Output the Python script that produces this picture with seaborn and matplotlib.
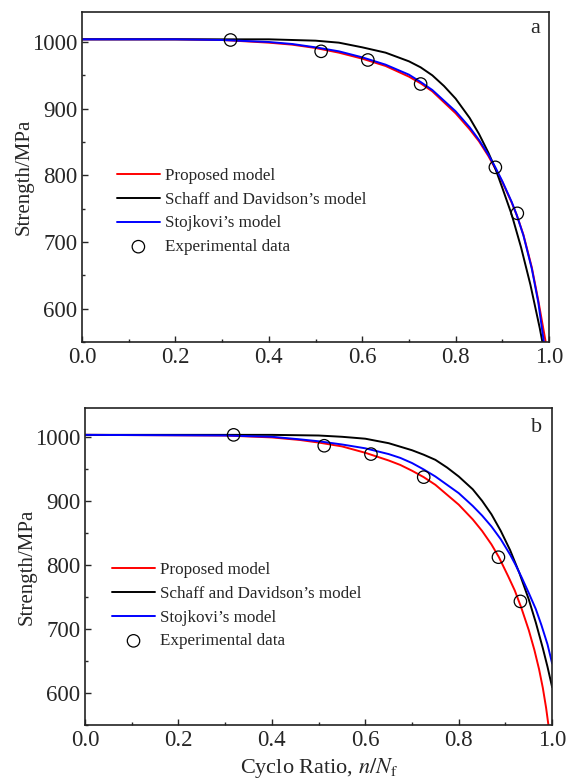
import matplotlib
matplotlib.use("Agg")
from matplotlib import pyplot as plt
from matplotlib.ticker import MultipleLocator, FormatStrFormatter
import seaborn as sns

# experimental points (same in both panels)
exp_x = [0.318, 0.512, 0.612, 0.725, 0.885, 0.932]
exp_y = [1003, 986, 973, 937, 812, 743]

# panel a curves
a_prop_x = [0.0, 0.2, 0.3, 0.4, 0.45, 0.5, 0.55, 0.6, 0.65, 0.7, 0.725, 0.75, 0.8, 0.83, 0.85, 0.87, 0.885, 0.9, 0.92, 0.931, 0.945, 0.963, 0.977, 0.993, 0.999]
a_prop_y = [1004, 1004, 1003, 999, 996, 991, 984, 975, 964, 948, 938, 926, 893, 869, 851, 829, 810, 790, 759, 740, 711, 662, 612, 549, 515]
a_sd_x = [0.0, 0.3, 0.4, 0.5, 0.55, 0.6, 0.65, 0.7, 0.725, 0.75, 0.775, 0.8, 0.83, 0.85, 0.87, 0.885, 0.9, 0.92, 0.94, 0.96, 0.98, 0.99]
a_sd_y = [1004, 1004, 1004, 1002, 999, 992, 984, 971, 962, 950, 934, 915, 886, 862, 834, 810, 781, 741, 692, 636, 571, 534]
a_sto_x = [0.0, 0.2, 0.3, 0.4, 0.45, 0.5, 0.55, 0.6, 0.65, 0.7, 0.725, 0.75, 0.8, 0.83, 0.85, 0.87, 0.885, 0.9, 0.92, 0.931, 0.945, 0.963, 0.977, 0.989, 0.995]
a_sto_y = [1004, 1004, 1003, 1000, 997, 992, 986, 977, 966, 951, 940, 928, 896, 872, 853, 831, 812, 791, 760, 740, 710, 660, 609, 549, 515]

# panel b curves
b_prop_x = [0.0, 0.3, 0.4, 0.46, 0.5, 0.55, 0.6, 0.65, 0.675, 0.7, 0.725, 0.75, 0.8, 0.83, 0.85, 0.87, 0.886, 0.906, 0.92, 0.934, 0.95, 0.962, 0.972, 0.98, 0.987, 0.992, 0.997]
b_prop_y = [1003, 1002, 999, 995, 991, 985, 975, 963, 956, 947, 937, 925, 894, 871, 853, 832, 812, 782, 760, 733, 698, 667, 637, 608, 577, 550, 520]
b_sd_x = [0.0, 0.3, 0.4, 0.5, 0.55, 0.6, 0.65, 0.7, 0.725, 0.75, 0.775, 0.8, 0.83, 0.85, 0.87, 0.89, 0.91, 0.93, 0.95, 0.965, 0.98, 0.99, 1.0]
b_sd_y = [1003, 1003, 1003, 1002, 1000, 997, 990, 979, 972, 964, 952, 938, 918, 900, 879, 853, 823, 787, 746, 710, 670, 641, 609]
b_sto_x = [0.0, 0.3, 0.4, 0.46, 0.5, 0.55, 0.6, 0.65, 0.675, 0.7, 0.725, 0.75, 0.8, 0.83, 0.85, 0.87, 0.89, 0.91, 0.921, 0.935, 0.95, 0.965, 0.977, 0.99, 1.0]
b_sto_y = [1003, 1002, 1000, 996, 993, 988, 982, 973, 967, 959, 949, 938, 912, 892, 877, 860, 840, 816, 801, 780, 756, 731, 706, 676, 646]

labels = ["Proposed model", "Schaff and Davidson\u2019s model", "Stojkovi\u2019s model", "Experimental data"]

sns.set_style("ticks")
plt.rcParams["font.family"] = ["Liberation Serif", "DejaVu Serif"]
plt.rcParams["mathtext.fontset"] = "stix"

fig = plt.figure(figsize=(5.71, 7.79), dpi=100)
ax_a = fig.add_axes([0.1436, 0.561, 0.818, 0.4236])
ax_b = fig.add_axes([0.149, 0.0693, 0.818, 0.407])

panels = [
    (ax_a, "a", (a_prop_x, a_prop_y), (a_sd_x, a_sd_y), (a_sto_x, a_sto_y), (0.075, 0.395), (0.97, 0.951)),
    (ax_b, "b", (b_prop_x, b_prop_y), (b_sd_x, b_sd_y), (b_sto_x, b_sto_y), (0.058, 0.376), (0.966, 0.937)),
]

for ax, tag, prop, sd, sto, leg_pos, tag_pos in panels:
    sns.lineplot(x=prop[0], y=prop[1], color="#ff0000", linewidth=1.4, label=labels[0], ax=ax)
    sns.lineplot(x=sd[0], y=sd[1], color="black", linewidth=1.4, label=labels[1], ax=ax)
    sns.lineplot(x=sto[0], y=sto[1], color="#0000ff", linewidth=1.4, label=labels[2], ax=ax)
    sns.scatterplot(x=exp_x, y=exp_y, marker="o", s=80, facecolor="none",
                    edgecolor="black", linewidth=0.9, label=labels[3], ax=ax, zorder=5)

    ax.set_xlim(0, 1.0)
    ax.set_ylim(550, 1045)
    ax.xaxis.set_major_locator(MultipleLocator(0.2))
    ax.xaxis.set_minor_locator(MultipleLocator(0.1))
    ax.yaxis.set_major_locator(MultipleLocator(100))
    ax.yaxis.set_minor_locator(MultipleLocator(50))
    ax.tick_params(which="both", direction="in", labelsize=16.5, width=1.0)
    ax.tick_params(which="major", length=4)
    ax.tick_params(which="minor", length=2.5)
    ax.xaxis.set_major_formatter(FormatStrFormatter("%.1f"))
    for sp in ax.spines.values():
        sp.set_visible(True)
        sp.set_linewidth(1.2)
        sp.set_color("#222222")
    ax.set_ylabel("Strength/MPa", fontsize=15, labelpad=-1)
    ax.set_xlabel("")
    ax.text(tag_pos[0], tag_pos[1], tag, transform=ax.transAxes, fontsize=16,
            ha="center", va="center")
    ax.legend(loc="center left", bbox_to_anchor=leg_pos, frameon=False, fontsize=12.3,
              handlelength=2.5, handletextpad=0.3, labelspacing=0.45,
              borderpad=0, borderaxespad=0)

ax_b.set_xlabel("Cyclo Ratio, $n/N_\\mathrm{f}$", fontsize=16, labelpad=4)

fig.savefig("out.png", dpi=100)
